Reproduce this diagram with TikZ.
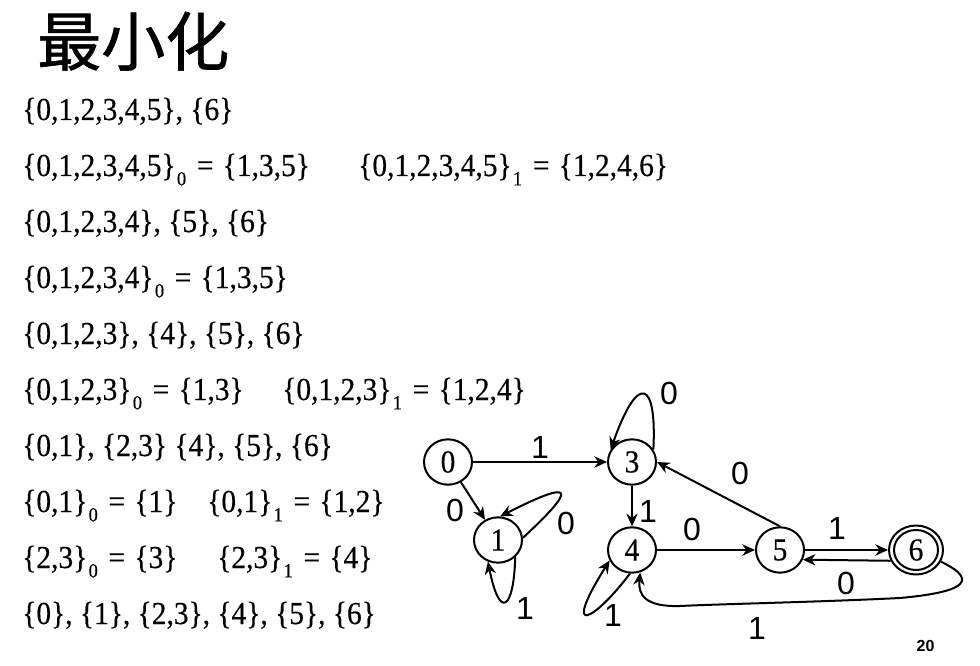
\documentclass[tikz,border=0pt]{standalone}
\usepackage{fontspec}
\setmainfont{Liberation Serif}[FakeStretch = 0.92, FakeBold = 0.4]
\newfontfamily\cjkfont{Noto Sans CJK SC}[FakeBold = 1]
\newfontfamily\lblfont{Liberation Sans}
\usetikzlibrary{arrows.meta,shapes.geometric}
\newcommand\lsub[1]{\hspace{1pt}\raisebox{-7pt}{\fontsize{15}{15}\selectfont #1}}
\newcommand\eqs{\hspace{8pt}=\hspace{7pt}}
\tikzset{
  state/.style = {draw, ellipse, line width = 1.5pt, minimum width = 36pt,
                  minimum height = 34pt, inner sep = 0pt,
                  font = \fontsize{24}{24}\selectfont},
  finalstate/.style = {state, minimum width = 40.5pt, minimum height = 36.75pt},
  trans/.style = {line width = 1.5pt, -{Stealth[length = 9.5pt, width = 8.5pt]}},
  lbl/.style = {inner sep = 0pt, font = \lblfont\fontsize{24}{24}\selectfont},
  eqn/.style = {anchor = base west, inner sep = 0pt,
                font = \fontsize{24}{28}\selectfont}
}
\begin{document}
\begin{tikzpicture}[x = .75pt, y = -.75pt]
  \useasboundingbox (0,0) rectangle (980,666);
  \node [anchor = base west, inner sep = 0pt,
         font = \cjkfont\fontsize{48}{48}\selectfont] (title) at (37,65.5) {最小化};
  % partitions
  \node [eqn] (l1)  at (22,120) {\{0,1,2,3,4,5\}, \{6\}};
  \node [eqn] (l2)  at (22,176) {\{0,1,2,3,4,5\}\lsub{0}\eqs\{1,3,5\}};
  \node [eqn] (l2b) at (358,176) {\{0,1,2,3,4,5\}\lsub{1}\eqs\{1,2,4,6\}};
  \node [eqn] (l3)  at (22,232) {\{0,1,2,3,4\}, \{5\}, \{6\}};
  \node [eqn] (l4)  at (22,288) {\{0,1,2,3,4\}\lsub{0}\eqs\{1,3,5\}};
  \node [eqn] (l5)  at (22,344) {\{0,1,2,3\}, \{4\}, \{5\}, \{6\}};
  \node [eqn] (l6)  at (22,400) {\{0,1,2,3\}\lsub{0}\eqs\{1,3\}};
  \node [eqn] (l6b) at (282,400) {\{0,1,2,3\}\lsub{1}\eqs\{1,2,4\}};
  \node [eqn] (l7)  at (22,456) {\{0,1\}, \{2,3\} \{4\}, \{5\}, \{6\}};
  \node [eqn] (l8)  at (22,512) {\{0,1\}\lsub{0}\eqs\{1\}};
  \node [eqn] (l8b) at (207,512) {\{0,1\}\lsub{1}\eqs\{1,2\}};
  \node [eqn] (l9)  at (22,568) {\{2,3\}\lsub{0}\eqs\{3\}};
  \node [eqn] (l9b) at (217,568) {\{2,3\}\lsub{1}\eqs\{4\}};
  \node [eqn] (l10) at (22,624) {\{0\}, \{1\}, \{2,3\}, \{4\}, \{5\}, \{6\}};
  % states
  \foreach \n/\x/\y in {0/448/462, 1/498/540, 3/632/462, 4/632/550, 5/780/550}
    \node [state] (s\n) at (\x,\y) {\n};
  \node [finalstate] (s6) at (916,550) {6};
  \draw [line width = 1.5pt] (s6.center) ellipse [x radius = 16.5pt, y radius = 15pt];
  % transitions
  \draw [trans] (s0) -- (s3) node [lbl] (t03) at (540,447) {1};
  \draw [trans] (s0) -- (s1) node [lbl] (t01) at (455,510) {0};
  \draw [trans] (s1.5) .. controls (580,485) and (572,480) .. (s1.85)
    node [lbl] (t11a) at (566,523) {0};
  \draw [trans] (s1.315) .. controls (514,608) and (500,622) .. (s1.245)
    node [lbl] (t11b) at (525,608) {1};
  \draw [trans] (s3.30) .. controls (657,380) and (638,372) .. (s3.150)
    node [lbl] (t33) at (669,393) {0};
  \draw [trans] (s3) -- (s4) node [lbl] (t34) at (648,511) {1};
  \draw [trans] (s4.265) .. controls (595,620) and (560,640) .. (s4.205)
    node [lbl] (t44) at (613,615) {1};
  \draw [trans] (s4) -- (s5) node [lbl] (t45) at (692,529) {0};
  \draw [trans] (s5.north) -- (s3.east) node [lbl] (t53) at (740,473) {0};
  \draw [trans] (s5) -- (s6) node [lbl] (t56) at (837,528) {1};
  \draw [trans] (s6.203) -- (s5.337) node [lbl] (t65) at (846,583) {0};
  \draw [trans] (s6.335) .. controls (985,583) and (955,593) .. (900,598)
    .. controls (820,602) and (720,604) .. (680,606)
    .. controls (645,607) and (638,595) .. (s4.290)
    node [lbl] (t64) at (757,628) {1};
  \node [inner sep = 0pt, font = \lblfont\bfseries\fontsize{12}{12}\selectfont]
    (page) at (925.5,645.5) {20};
\end{tikzpicture}
\end{document}
